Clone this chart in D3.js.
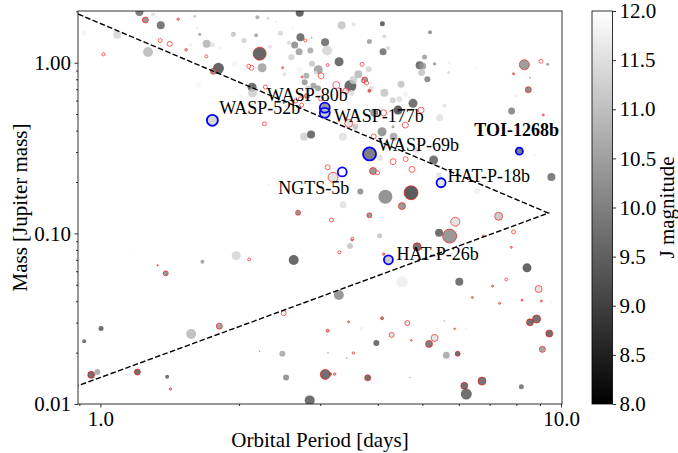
<!DOCTYPE html>
<html>
<head>
<meta charset="utf-8">
<script src="https://cdn.jsdelivr.net/npm/d3@7"></script>
<style>
  body { margin: 0; background: #fff; }
  svg text { font-family: "Liberation Serif", "Times New Roman", serif; }
</style>
</head>
<body>
<svg id="chart" width="678" height="453"></svg>
<script>
// ---- data ----
// orbital period [days]
const period = [
  1.215,1.252,1.301,1.321,1.352,1.475,1.602,1.624,1.643,1.944,
  0.920,1.087,1.348,1.414,1.015,1.269,1.330,1.535,1.568,1.701,
  1.750,1.815,1.698,1.954,1.804,1.759,1.637,2.708,2.192,2.312,
  2.410,2.051,2.178,2.459,2.615,2.718,2.786,2.569,3.074,3.105,
  2.874,3.340,3.547,4.094,4.135,2.217,2.335,2.641,2.700,2.856,
  2.598,2.244,2.127,2.099,2.487,2.508,2.708,2.880,3.114,3.297,
  2.972,3.013,2.933,2.800,2.741,3.699,3.631,3.748,3.784,3.489,
  3.541,3.253,3.408,3.506,4.108,4.135,3.875,2.776,2.900,2.824,
  2.968,2.810,3.013,2.654,2.135,2.138,2.013,2.281,2.718,2.735,
  2.620,3.933,4.121,5.195,5.056,5.316,4.932,5.008,4.983,5.126,
  5.702,5.722,6.541,4.495,4.310,4.457,4.592,4.772,4.968,4.428,
  5.588,5.451,4.212,8.325,9.050,9.352,7.889,8.565,8.492,7.970,
  7.811,9.155,3.837,3.824,3.837,3.723,4.592,4.318,3.920,4.088,
  4.331,3.577,3.360,3.459,3.547,2.768,2.867,2.270,4.039,4.318,
  4.599,4.749,3.908,3.999,5.290,4.869,5.424,6.574,7.322,7.889,
  4.725,4.156,4.517,3.837,5.895,5.731,5.435,4.039,3.667,3.524,
  4.869,3.114,3.200,3.364,2.686,3.173,2.318,9.530,8.763,3.518,
  3.302,3.471,3.483,4.121,4.517,6.015,8.437,7.606,7.800,6.772,
  3.294,7.104,8.941,6.421,7.358,8.230,9.065,9.513,3.459,4.088,
  3.685,4.638,5.580,5.875,6.220,4.289,4.732,5.316,5.170,3.973,
  8.565,8.851,9.432,9.108,5.636,5.966,3.424,3.541,3.157,3.804,
  4.701,6.167,6.229,6.737,8.202,1.971,2.628,1.665,2.103,1.386,
  1.331,1.189,2.499,1.812,1.574,3.114,1.003,0.922,2.217,2.483,
  3.120,0.955,0.985,1.203,1.396,1.419,2.530,3.078,3.226,2.847
];
// planet mass [Jupiter mass]
const mass = [
  1.98,1.78,1.92,1.85,1.66,1.80,1.87,1.60,1.47,1.47,
  1.49,1.46,1.35,1.29,1.12,1.155,1.19,1.19,1.275,1.29,
  1.275,1.22,1.09,0.98,0.927,0.89,0.74,1.96,1.85,1.82,
  1.74,1.35,1.45,1.49,1.60,1.41,1.35,1.31,1.32,1.18,
  1.40,1.66,1.68,1.69,1.43,1.13,1.24,1.27,1.16,1.18,
  1.076,0.935,0.935,0.953,0.935,0.855,0.906,0.987,0.969,1.014,
  0.910,0.839,0.874,0.839,0.824,0.979,0.855,0.792,0.760,0.730,
  0.792,0.740,0.682,0.664,1.16,0.667,0.708,0.768,0.733,0.704,
  0.708,0.638,0.618,0.596,0.718,0.664,0.638,0.720,0.615,0.565,
  0.591,0.509,0.509,1.51,1.08,0.987,0.966,0.956,0.878,0.799,
  0.878,1.00,0.935,0.747,0.602,0.610,0.653,0.578,0.528,0.528,
  0.560,0.476,1.22,0.973,1.02,0.979,0.862,0.817,0.695,0.638,
  0.521,0.494,1.33,0.915,0.685,0.781,0.431,0.421,0.370,0.394,
  0.368,0.421,0.368,0.441,0.368,0.368,0.380,0.439,0.277,0.263,
  0.272,0.237,0.232,0.2265,0.269,0.308,0.220,0.177,0.126,0.102,
  0.173,0.164,0.1445,0.1275,0.117,0.0964,0.1008,0.0968,0.176,0.093,
  0.0834,0.244,0.213,0.147,0.132,0.1197,0.192,0.214,0.287,0.0913,
  0.0774,0.0770,0.0842,0.0756,0.0520,0.0520,0.0628,0.0537,0.0828,0.0968,
  0.0435,0.0491,0.0472,0.0421,0.0389,0.0406,0.0401,0.0396,0.0303,0.0318,
  0.0276,0.0298,0.0307,0.0276,0.0275,0.0254,0.0236,0.0244,0.0225,0.0228,
  0.0301,0.0315,0.0259,0.0209,0.0193,0.0197,0.0186,0.0199,0.0150,0.01424,
  0.01428,0.01278,0.01143,0.01362,0.01261,0.0739,0.0698,0.0682,0.0704,0.0583,
  0.0649,0.0812,0.034,0.0286,0.0257,0.0269,0.0277,0.0233,0.0204,0.0197,
  0.0200,0.01483,0.01538,0.01538,0.01443,0.01223,0.01432,0.01491,0.01497,0.0105
];
// host star J magnitude
const jmag = [
  9.5,10.0,11.5,11.8,9.4,11,11,11.5,10.3,11,
  11.8,11.3,12,12,12,10.8,11.8,11,11.8,10.7,
  11.5,11.8,12,11.8,9.0,10,11.9,9.0,10.5,11.3,
  11.5,11.2,10.5,11.3,11.8,9.3,12,11.3,9.4,11.3,
  10.5,11,11.5,9.0,11.3,9.0,11.5,10.0,10.3,10.5,
  11.2,10.4,12,12,11,11.5,11.8,11,12,9.2,
  10.3,12,11.5,10.5,11,12,10.8,10.2,12,9.1,
  11.2,12,11.5,11.5,9.5,11,11.5,10.2,10.3,11.2,
  10.3,10.4,12,12,9.2,11.2,11.9,12,12,12,
  10.5,10,12,10,10.3,10,9.3,10.3,11,9.8,
  11.3,11.5,11.8,11,11.2,11.5,11.8,9.3,12,8.9,
  11.5,11.5,11.3,10.1,12,10.3,10.5,10.5,9.8,11,
  9.8,11,10.3,11.3,10,12,12,10.3,12,10,
  10.5,11,11.5,11.5,11.9,11.2,9.2,12,11.5,12,
  12,12,10,12,9.3,11.5,11.5,11.7,11,12,
  8.8,9.9,10,10,11.5,10,9.2,11,10,12,
  9.3,12,11.5,11.5,10,12,11.5,9.5,11.5,11,
  12,11.8,11,11,11.7,9.3,9,12,11,11,
  10,11,11.5,11,11,11,11,11.5,11,10,
  11.8,11.5,10,11,11.5,11.5,11,11.5,9.5,9.2,
  9.2,9.3,9.2,10.3,10.5,9.2,10,12,10.5,9.2,
  10,9.2,9.2,9.3,9.5,11.3,9.1,10.3,12,10,
  11,11.8,12,10.2,10.8,10.5,9.2,9.3,9.5,10.5,
  11,9.2,10.5,9.2,9.3,11,10,9.2,11,9.2
];
// planet radius [Earth radii] -> marker size
const rEarth = [
  8,6,4,4,8,2.4,3,2,3,5,
  5,8,4,5,3,10,6,2.6,4,8,
  5,4,3,6,11,6,6,8,4,3,
  2,5,4,5,3,8,3,4,8,10,
  2,8,4,5,4,13,4,7,7,6,
  6,9,5,4,2,4,6,6,3,9,
  9,6,4,6,2,4,8,6,4,12,
  8,7,6,6,7,8,5,6,6,6,
  6,5,5,4,9,9,5,4,4,4,
  2,8,6,4,5,3,8,7,7,6,
  3,2,2,7,6,6,5,9,6,9,
  4,7,4,10,4,3,2,2,6,1.4,
  7,2,5,6,3,3,6,3,5,9,
  8,6,8,8,6,8,8,4,6,6,
  5,6,7,4,9,6,5,6,8,4,
  14,14,7,5,9,14,8,5,6,3,
  8,5,10,7,5,4,1.6,8,1.6,2,
  3,3,6,2.4,11,8,9,3,2,1.6,
  10,2,7,2,2,2,2,1.4,2,3,
  4,5,1.4,1.6,1.4,5,1.6,7,7,6,
  7,8,7,6,7,5,1.6,2.4,2.4,6,
  1.4,7,11,8,5,9,10,4,3,5,
  1.4,1.4,5,6,10,3,5,4,1.4,6,
  2,7,6,6,4,2.4,6,10,2.4,10
];
// 1 = flagged (red edge)
const flagged = [
  0,1,0,0,0,1,0,0,0,0,
  0,0,1,1,1,0,0,1,0,0,
  0,0,1,0,0,1,0,0,0,0,
  0,0,0,0,0,0,1,0,0,0,
  0,0,0,0,0,1,0,0,0,0,
  0,0,1,1,1,0,0,0,1,0,
  0,1,0,0,1,1,0,1,1,0,
  0,1,1,0,0,0,0,0,0,0,
  0,1,1,1,0,0,0,1,1,1,
  0,0,1,0,0,0,0,0,0,0,
  0,0,0,0,0,0,0,0,1,0,
  0,0,0,1,1,0,1,0,1,0,
  0,1,0,0,1,1,1,0,1,0,
  0,0,0,1,0,0,0,1,0,1,
  1,1,1,1,0,0,0,0,1,1,
  1,0,1,1,1,1,0,0,0,1,
  1,1,1,0,1,1,0,0,0,1,
  1,0,0,1,0,0,0,1,1,1,
  0,1,1,1,1,1,1,0,1,1,
  0,1,0,1,0,1,1,1,1,0,
  1,1,1,1,0,1,0,1,1,1,
  0,1,0,1,0,0,0,0,1,1,
  1,0,1,1,0,1,0,0,0,0,
  0,1,0,1,0,1,0,1,1,0
];

// highlighted planets
const names    = ["WASP-52b","WASP-80b","WASP-177b","WASP-69b","NGTS-5b","HAT-P-18b","TOI-1268b","HAT-P-26b"];
const namedP   = [1.75, 3.07, 3.07, 3.84, 3.35, 5.49, 8.12, 4.22];
const namedM   = [0.46, 0.545, 0.509, 0.292, 0.229, 0.198, 0.303, 0.070];
const namedJ   = [11.2, 10.0, 11.0, 9.5, 12.0, 11.5, 9.5, 11.0];
const namedR   = [11, 10, 10, 13, 9, 9, 7, 9];

// Neptune desert boundary (period, mass)
const desertP = [0.894, 9.39, 0.894];
const desertM = [1.93, 0.1315, 0.0128];

const xTicks = [1, 10];
const yTicks = [0.01, 0.1, 1];
const cbTicks = [8, 8.5, 9, 9.5, 10, 10.5, 11, 11.5, 12];

// ---- layout ----
const L = 78, R = 562, T = 11, B = 404;
// label placement relative to the marker [dx, dy, anchor, weight]
const labelPos = [
  [7, -6, "start", "normal"],
  [-58, -7, "start", "normal"],
  [9, 9, "start", "normal"],
  [8.5, -2.5, "start", "normal"],
  [7, 22, "end", "normal"],
  [6.5, -1, "start", "normal"],
  [-45, -15.5, "start", "bold"],
  [8, 0.5, "start", "normal"]
];

const svg = d3.select("#chart");

const x = d3.scaleLog().domain([0.894, 10.05]).range([L, R]);
const y = d3.scaleLog().domain([0.01, 2.01]).range([B, T]);
const gray = d3.scaleLinear().domain([8, 12]).range(["#000", "#fff"]).clamp(true);
const rs = d3.scaleLinear().domain([0, 14]).range([0, 7]);

svg.append("defs").append("clipPath").attr("id", "clip")
  .append("rect").attr("x", L).attr("y", T).attr("width", R - L).attr("height", B - T);

const pts = period.map((p, i) => ({p: p, m: mass[i], j: jmag[i], r: rEarth[i], red: flagged[i]}));

const plot = svg.append("g").attr("clip-path", "url(#clip)");

plot.selectAll("circle.pt")
  .data(pts)
  .enter()
  .append("circle")
  .classed("pt", true)
  .attr("cx", d => x(d.p))
  .attr("cy", d => y(d.m))
  .attr("r", d => rs(d.r))
  .attr("fill", d => gray(d.j))
  .attr("fill-opacity", 0.8)
  .attr("stroke", d => d.red ? "#ff0000" : "none")
  .attr("stroke-opacity", 0.6)
  .attr("stroke-width", 1);

// named planets' own markers
const named = names.map((n, i) => ({name: n, p: namedP[i], m: namedM[i], j: namedJ[i], r: namedR[i], pos: labelPos[i]}));

plot.selectAll("circle.named")
  .data(named)
  .enter()
  .append("circle")
  .classed("named", true)
  .attr("cx", d => x(d.p))
  .attr("cy", d => y(d.m))
  .attr("r", d => rs(d.r))
  .attr("fill", d => gray(d.j))
  .attr("fill-opacity", 0.8);

// desert boundary
const line = d3.line().x(d => x(d[0])).y(d => y(d[1]));
plot.append("path")
  .datum(desertP.map((p, i) => [p, desertM[i]]))
  .attr("d", line)
  .attr("fill", "none")
  .attr("stroke", "#000")
  .attr("stroke-width", 1.4)
  .attr("stroke-dasharray", "5.5,2.4");

// blue rings
plot.selectAll("circle.ring")
  .data(named)
  .enter()
  .append("circle")
  .attr("cx", d => x(d.p))
  .attr("cy", d => y(d.m))
  .attr("r", d => rs(d.r))
  .attr("fill", "none")
  .attr("stroke", "#0000ff")
  .attr("stroke-width", 1.8);

svg.selectAll("text.lab")
  .data(named)
  .enter()
  .append("text")
  .attr("x", d => x(d.p) + d.pos[0])
  .attr("y", d => y(d.m) + d.pos[1])
  .attr("text-anchor", d => d.pos[2])
  .attr("font-weight", d => d.pos[3])
  .attr("font-size", 18)
  .attr("fill", "#000")
  .text(d => d.name);

// ---- axes ----
function minorLog(lo, hi) {
  const out = [];
  for (let e = -3; e <= 2; e++) {
    for (let k = 2; k <= 9; k++) {
      const v = k * Math.pow(10, e);
      if (v >= lo && v <= hi) out.push(v);
    }
  }
  return out;
}

const fontAx = 21;

const xAxis = svg.append("g").attr("transform", `translate(0,${B})`)
  .call(d3.axisBottom(x).tickValues(xTicks).tickFormat(d3.format(".1f")).tickSize(3.5).tickPadding(3.5));
svg.append("g").attr("transform", `translate(0,${B})`)
  .call(d3.axisBottom(x).tickValues(minorLog(0.894, 10.05)).tickFormat("").tickSize(2));

const yAxis = svg.append("g").attr("transform", `translate(${L},0)`)
  .call(d3.axisLeft(y).tickValues(yTicks).tickFormat(d3.format(".2f")).tickSize(3.5).tickPadding(3.5));
svg.append("g").attr("transform", `translate(${L},0)`)
  .call(d3.axisLeft(y).tickValues(minorLog(0.01, 2.01)).tickFormat("").tickSize(2));

svg.selectAll(".domain").remove();
svg.selectAll(".tick line").attr("stroke", "#000").attr("stroke-width", 0.8);
svg.selectAll(".tick text").attr("font-size", fontAx).attr("fill", "#000")
  .style("font-family", '"Liberation Serif", "Times New Roman", serif');

svg.append("rect")
  .attr("x", L).attr("y", T).attr("width", R - L).attr("height", B - T)
  .attr("fill", "none").attr("stroke", "#000").attr("stroke-width", 0.8);

svg.append("text")
  .attr("x", (L + R) / 2).attr("y", 447)
  .attr("text-anchor", "middle").attr("font-size", fontAx)
  .text("Orbital Period [days]");

svg.append("text")
  .attr("transform", `translate(26.5,${(T + B) / 2}) rotate(-90)`)
  .attr("text-anchor", "middle").attr("font-size", fontAx)
  .text("Mass [Jupiter mass]");

// ---- colorbar ----
const cbX = 592, cbW = 20.5;
const cb = d3.scaleLinear().domain([8, 12]).range([B, T]);
const grad = svg.select("defs").append("linearGradient")
  .attr("id", "cbgrad").attr("x1", 0).attr("y1", 1).attr("x2", 0).attr("y2", 0);
grad.append("stop").attr("offset", "0%").attr("stop-color", gray(8));
grad.append("stop").attr("offset", "100%").attr("stop-color", gray(12));

svg.append("rect")
  .attr("x", cbX).attr("y", T).attr("width", cbW).attr("height", B - T)
  .attr("fill", "url(#cbgrad)")
  .attr("stroke", "#000").attr("stroke-width", 0.8);

const cbAxis = svg.append("g").attr("transform", `translate(${cbX + cbW},0)`)
  .call(d3.axisRight(cb).tickValues(cbTicks).tickFormat(d3.format(".1f")).tickSize(3.5).tickPadding(3.5));
cbAxis.select(".domain").remove();
cbAxis.selectAll(".tick line").attr("stroke", "#000").attr("stroke-width", 0.8);
cbAxis.selectAll(".tick text").attr("font-size", fontAx).attr("fill", "#000")
  .style("font-family", '"Liberation Serif", "Times New Roman", serif');

svg.append("text")
  .attr("transform", `translate(674,${(T + B) / 2}) rotate(-90)`)
  .attr("text-anchor", "middle").attr("font-size", fontAx)
  .text("J magnitude");
</script>
</body>
</html>
